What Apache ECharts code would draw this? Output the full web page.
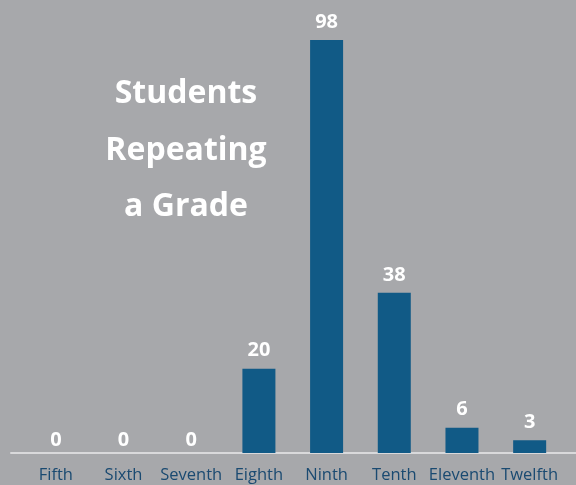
<!DOCTYPE html>
<html><head><meta charset="utf-8">
<script src="https://cdn.jsdelivr.net/npm/echarts@6/dist/echarts.min.js"></script>
<style>html,body{margin:0;padding:0;background:#a7a8ab}#c{width:576px;height:485px}</style>
</head><body><div id="c"></div>
<script>
const categories = ['Fifth','Sixth','Seventh','Eighth','Ninth','Tenth','Eleventh','Twelfth'];
const values = [0,0,0,20,98,38,6,3];
const titleText = 'Students\nRepeating\na Grade';
const chart = echarts.init(document.getElementById('c'));
chart.setOption({
  backgroundColor: '#a7a8ab',
  animation: false,
  graphic: [{
    type:'text', x: 186, y: 66,
    style: {text: titleText, align:'center', verticalAlign:'top', fill:'#ffffff',
      fontFamily:'Open Sans', fontWeight:'bold', fontSize:32, lineHeight:56.5}
  }],
  grid: [
    {left: 22, right: 12.5, top: 31.6, bottom: 32},
    {left: 11, right: 0, top: 31.6, bottom: 32}
  ],
  xAxis: [
    {type:'category', data: categories, gridIndex:0,
     axisLine:{show:false}, axisTick:{show:false},
     axisLabel:{color:'#1a4a71', fontFamily:'Open Sans', fontSize:16.5, margin:14, interval:0}},
    {type:'category', data:[''], gridIndex:1,
     axisLine:{show:true, lineStyle:{color:'#d9d9db', width:2}}, axisTick:{show:false}, axisLabel:{show:false}}
  ],
  yAxis: [
    {type:'value', min:0, max:100, gridIndex:0, show:false, splitLine:{show:false}},
    {type:'value', min:0, max:100, gridIndex:1, show:false, splitLine:{show:false}}
  ],
  series: [{
    type:'bar', xAxisIndex:0, yAxisIndex:0, barWidth:33,
    data: values.map(v => v === 0 ? {value: v, label: {distance: 3}} : v),
    itemStyle:{color:'#115a86'},
    label:{show:true, position:'top', distance:8, color:'#ffffff', fontFamily:'Open Sans', fontWeight:'bold', fontSize:20}
  }]
});
</script></body></html>
